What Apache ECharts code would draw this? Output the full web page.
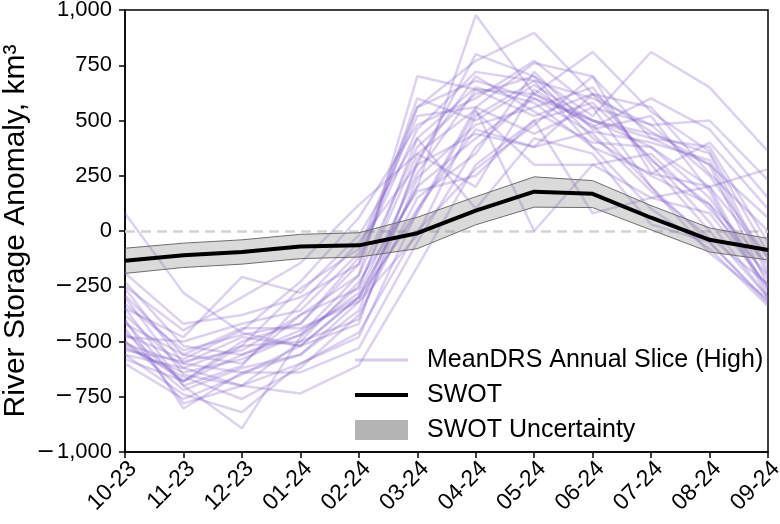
<!DOCTYPE html>
<html>
<head>
<meta charset="utf-8">
<script src="https://cdn.jsdelivr.net/npm/echarts@6/dist/echarts.min.js"></script>
<style>
  html, body { margin: 0; padding: 0; background: #fff; }
  #chart { width: 780px; height: 524px; }
</style>
</head>
<body>
<div id="chart"></div>
<script>
// month labels (MM-YY)
const months = ["10-23", "11-23", "12-23", "01-24", "02-24", "03-24",
  "04-24", "05-24", "06-24", "07-24", "08-24", "09-24"]

// MeanDRS annual slices, km3 (approximate)
const meanDrsSlices = [
  [80, -280, -460, -520, -300, 200, 977, 620, 500, 380, 200, -120],
  [-190, -420, -380, -300, -150, 560, 770, 896, 620, 450, 300, 60],
  [-230, -520, -560, -470, -200, 700, 640, 620, 810, 540, 360, -100],
  [-260, -600, -640, -560, -360, 300, 800, 700, 520, 810, 650, 360],
  [-300, -650, -700, -600, -480, 90, 560, 760, 700, 420, 300, -250],
  [-330, -540, -470, -420, -120, 460, 720, 680, 600, 480, 500, 230],
  [-350, -700, -893, -480, -250, 350, 550, 0, 300, 350, 100, -200],
  [-380, -620, -520, -500, -400, 240, 480, 560, 650, 300, 0, -300],
  [-400, -803, -640, -640, -530, -50, 380, 620, 480, 200, -50, -330],
  [-420, -560, -600, -380, -200, 380, 620, 700, 420, 250, 120, -150],
  [-440, -780, -700, -735, -608, -163, 300, 500, 80, 150, 200, -280],
  [-460, -680, -560, -450, -300, 200, 420, 600, 500, 420, 380, -50],
  [-480, -500, -420, -360, -100, 520, 560, 440, 560, 200, -100, -310],
  [-500, -720, -620, -560, -320, 100, 460, 380, 620, 560, 260, 0],
  [-510, -600, -480, -520, -420, 320, 700, 540, 400, 380, 150, -220],
  [-520, -660, -760, -620, -380, 150, 350, 720, 460, 520, 180, -300],
  [-540, -590, -540, -380, -260, 420, 650, 580, 380, 100, -80, -340],
  [-560, -740, -820, -600, -460, 0, 280, 480, 700, 260, 400, 100],
  [-580, -680, -500, -420, -150, 600, 500, 660, 500, 440, 350, -180],
  [-600, -760, -650, -520, -300, 80, 540, 300, 300, 150, 80, -250],
  [-250, -450, -300, -145, 118, 350, 200, 640, 470, 600, 460, 150],
  [-350, -480, -208, -280, -20, 420, 100, 420, 350, 30, -50, -320],
  [-470, -580, -450, -230, 60, 480, 600, 770, 560, 480, 250, -120],
  [-530, -640, -580, -470, -280, 260, 640, 520, 620, 320, 120, -260],
  [-410, -700, -610, -330, -50, 300, 440, 380, 450, 400, 320, -200],
  [-560, -620, -700, -500, -230, 180, 250, 500, 580, 330, 40, -300],
  [-290, -560, -440, -440, -320, -20, 520, 680, 380, 260, 200, 280],
  [-500, -680, -520, -260, -80, 560, 680, 600, 440, 180, -30, -240],
]

// SWOT storage anomaly and its uncertainty envelope
const swot = [-135, -110, -95, -70, -65, -10, 92, 178, 168, 60, -40, -86]
const swotLower = [-192, -165, -150, -125, -118, -80, 28, 108, 106, 5, -95, -131]
const swotUpper = [-78, -55, -40, -15, -8, 62, 155, 245, 228, 115, 14, -34]

const chart = echarts.init(document.getElementById("chart"), null, { renderer: "canvas" })

const fontFamily = "Liberation Sans, Arial, sans-serif"
const sliceName = "MeanDRS Annual Slice (High)"
const sliceColor = "rgba(125, 90, 200, 0.27)"

const sliceSeries = meanDrsSlices.map((values) => ({
  name: sliceName,
  type: "line",
  symbol: "none",
  silent: true,
  z: 2,
  lineStyle: { width: 2.5, color: sliceColor },
  itemStyle: { color: sliceColor },
  data: values,
}))

// matplotlib-style wide minus sign
function formatTick(v) {
  const s = Math.abs(v).toLocaleString("en-US")
  return v < 0 ? "{m|\u2212}" + s : s
}

chart.setOption({
  animation: false,
  backgroundColor: "#fff",
  grid: {
    left: 125,
    right: 12,
    top: 10,
    bottom: 72,
    outerBoundsMode: "none",
    show: true,
    borderColor: "#000",
    borderWidth: 1.5,
  },
  legend: {
    left: 350,
    top: 341,
    orient: "vertical",
    itemWidth: 53,
    itemHeight: 20,
    itemGap: 7,
    selectedMode: false,
    textStyle: { fontFamily, fontSize: 25, color: "#000", lineHeight: 28, padding: [0, 0, 0, 14] },
    data: [
      { name: sliceName, icon: "path://M0,0 L53,0 L53,3 L0,3 Z", itemStyle: { color: "rgba(125, 90, 200, 0.3)" } },
      { name: "SWOT", icon: "path://M0,0 L53,0 L53,4 L0,4 Z", itemStyle: { color: "#000" } },
      { name: "SWOT Uncertainty", icon: "rect", itemStyle: { color: "#b4b4b4" } },
    ],
  },
  xAxis: {
    type: "category",
    data: months,
    boundaryGap: false,
    axisLine: { onZero: false, lineStyle: { color: "#000", width: 1.5 } },
    axisTick: { alignWithLabel: true, length: 6, lineStyle: { color: "#000", width: 1.5 } },
    axisLabel: {
      rotate: 45,
      interval: 0,
      margin: 5,
      verticalAlign: "top",
      color: "#000",
      fontFamily,
      fontSize: 23,
    },
    splitLine: { show: false },
  },
  yAxis: {
    type: "value",
    min: -1000,
    max: 1000,
    interval: 250,
    name: "River Storage Anomaly, km\u00b3",
    nameLocation: "middle",
    nameGap: 94,
    nameMoveOverlap: false,
    nameTextStyle: { fontFamily, fontSize: 30, color: "#000" },
    axisLine: { show: true, lineStyle: { color: "#000", width: 1.5 } },
    axisTick: { show: true, length: 6, lineStyle: { color: "#000", width: 1.5 } },
    axisLabel: {
      color: "#000",
      fontFamily,
      fontSize: 22,
      margin: 13,
      formatter: formatTick,
      rich: { m: { fontFamily: "DejaVu Sans", fontSize: 22, color: "#000", padding: [0, 2, 0, 0] } },
    },
    splitLine: { show: false },
  },
  series: [
    {
      name: "zero",
      type: "line",
      symbol: "none",
      silent: true,
      z: 1,
      data: [],
      markLine: {
        silent: true,
        symbol: "none",
        z: 1,
        label: { show: false },
        lineStyle: { color: "#d3d3d3", type: [10, 6], width: 2.5 },
        data: [{ yAxis: 0 }],
      },
    },
    ...sliceSeries,
    {
      name: "swotLower",
      type: "line",
      stack: "band",
      stackStrategy: "all",
      symbol: "none",
      silent: true,
      z: 3,
      lineStyle: { width: 1, color: "#6e6e6e" },
      data: swotLower,
    },
    {
      name: "SWOT Uncertainty",
      type: "line",
      stack: "band",
      stackStrategy: "all",
      symbol: "none",
      silent: true,
      z: 3,
      lineStyle: { width: 1, color: "#6e6e6e" },
      itemStyle: { color: "#b4b4b4" },
      areaStyle: { color: "rgba(128, 128, 128, 0.42)" },
      data: swotUpper.map((u, i) => u - swotLower[i]),
    },
    {
      name: "SWOT",
      type: "line",
      symbol: "none",
      silent: true,
      z: 4,
      lineStyle: { width: 4, color: "#000" },
      itemStyle: { color: "#000" },
      data: swot,
    },
  ],
})
</script>
</body>
</html>
